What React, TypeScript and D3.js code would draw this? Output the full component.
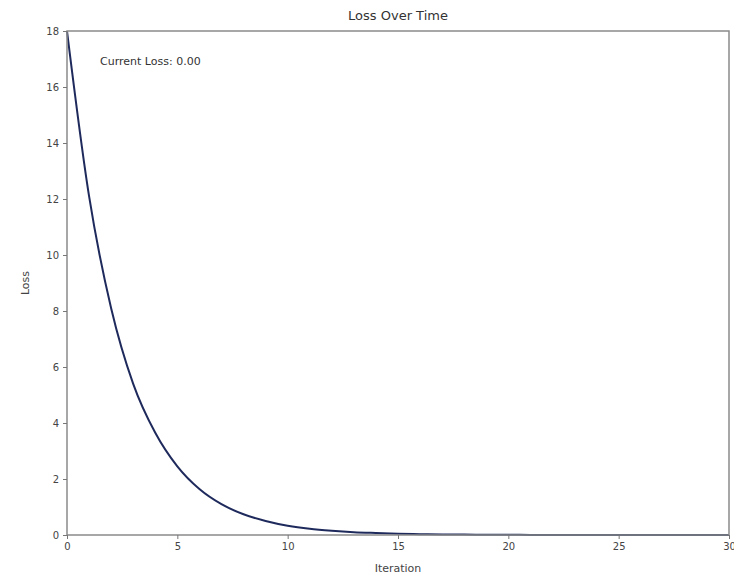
import React from "react";
import * as d3 from "d3";

// loss per iteration
const iterations = [
  0, 1, 2, 3, 4, 5, 6, 7, 8, 9, 10, 11, 12, 13, 14, 15, 16, 17, 18, 19, 20,
  21, 22, 23, 24, 25, 26, 27, 28, 29, 30,
];
const lossValues = [
  18.0, 12.1, 8.1, 5.4, 3.65, 2.45, 1.64, 1.1, 0.74, 0.5, 0.33, 0.22, 0.15,
  0.1, 0.07, 0.045, 0.03, 0.02, 0.014, 0.009, 0.006, 0.004, 0.003, 0.002,
  0.001, 0.001, 0, 0, 0, 0, 0,
];
const xTicks = [0, 5, 10, 15, 20, 25, 30];
const yTicks = [0, 2, 4, 6, 8, 10, 12, 14, 16, 18];
const currentLoss = "Current Loss: 0.00";

const App = () => {
  const ref = React.useRef<SVGSVGElement>(null);

  React.useEffect(() => {
    drawChart(ref.current);
  }, []);

  return (
    <svg
      ref={ref}
      width={734}
      height={577}
      style={{ position: "absolute", left: 0, top: 0, background: "#fff" }}
    />
  );
};

function drawChart(node: SVGSVGElement | null) {
  if (!node) return;
  const svg = d3.select(node);
  svg.selectAll("*").remove();

  const left = 67;
  const right = 729;
  const top = 31;
  const bottom = 535;
  const font = "DejaVu Sans, sans-serif";

  const xScale = d3.scaleLinear().domain([0, 30]).range([left, right]);
  const yScale = d3.scaleLinear().domain([0, 18]).range([bottom, top]);

  const data = iterations.map((it, i) => ({ it, loss: lossValues[i] }));

  // line
  const line = d3
    .line<{ it: number; loss: number }>()
    .x((d) => xScale(d.it))
    .y((d) => yScale(d.loss))
    .curve(d3.curveMonotoneX);

  svg
    .append("path")
    .datum(data)
    .attr("fill", "none")
    .attr("stroke", "#1f2a5c")
    .attr("stroke-width", 2)
    .attr("d", line);

  // frame
  svg
    .append("rect")
    .attr("x", left)
    .attr("y", top)
    .attr("width", right - left)
    .attr("height", bottom - top)
    .attr("fill", "none")
    .attr("stroke", "#8a8a8a")
    .attr("stroke-width", 1.5);

  // x axis
  const xAxis = svg.append("g").attr("transform", `translate(0,${bottom})`);
  xAxis
    .call(d3.axisBottom(xScale).tickValues(xTicks).tickSize(4).tickPadding(4))
    .call((g) => g.select(".domain").remove());
  xAxis.selectAll("line").attr("stroke", "#777");
  xAxis
    .selectAll("text")
    .attr("font-family", font)
    .attr("font-size", 10)
    .attr("fill", "#444");

  // y axis
  const yAxis = svg.append("g").attr("transform", `translate(${left},0)`);
  yAxis
    .call(d3.axisLeft(yScale).tickValues(yTicks).tickSize(4).tickPadding(4))
    .call((g) => g.select(".domain").remove());
  yAxis.selectAll("line").attr("stroke", "#777");
  yAxis
    .selectAll("text")
    .attr("font-family", font)
    .attr("font-size", 10)
    .attr("fill", "#444");

  // title and labels
  svg
    .append("text")
    .attr("x", (left + right) / 2)
    .attr("y", 20)
    .attr("text-anchor", "middle")
    .attr("font-family", font)
    .attr("font-size", 13)
    .attr("fill", "#333")
    .text("Loss Over Time");

  svg
    .append("text")
    .attr("x", (left + right) / 2)
    .attr("y", 572)
    .attr("text-anchor", "middle")
    .attr("font-family", font)
    .attr("font-size", 11)
    .attr("fill", "#444")
    .text("Iteration");

  svg
    .append("text")
    .attr("transform", `translate(29,${(top + bottom) / 2}) rotate(-90)`)
    .attr("text-anchor", "middle")
    .attr("font-family", font)
    .attr("font-size", 11)
    .attr("fill", "#444")
    .text("Loss");

  svg
    .append("text")
    .attr("x", 100)
    .attr("y", 65)
    .attr("font-family", font)
    .attr("font-size", 11)
    .attr("fill", "#333")
    .text(currentLoss);
}

export default App;
